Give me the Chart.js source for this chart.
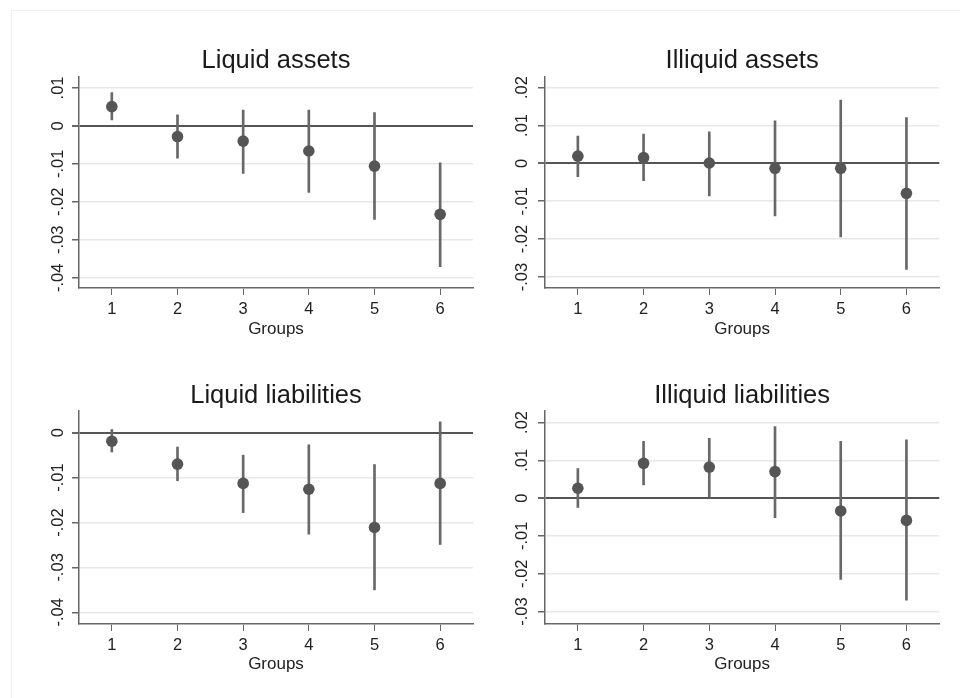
<!DOCTYPE html>
<html>
<head>
<meta charset="utf-8">
<script src="https://cdn.jsdelivr.net/npm/chart.js@4/dist/chart.umd.min.js"></script>
<style>
  html, body { margin: 0; padding: 0; background: #fff; }
  #page { position: relative; width: 960px; height: 698px; overflow: hidden; background: #fff; }
  #frame { position: absolute; left: 11px; top: 10px; right: -2px; bottom: -2px; border-top: 1px solid #f0f0f0; border-left: 1px solid #f0f0f0; }
  .panel { position: absolute; width: 480px; height: 349px; }
</style>
</head>
<body>
<div id="page">
  <div id="frame"></div>
  <div class="panel" style="left:0;top:0"><canvas id="c1" width="480" height="349"></canvas></div>
  <div class="panel" style="left:480px;top:0"><canvas id="c2" width="480" height="349"></canvas></div>
  <div class="panel" style="left:0;top:349px"><canvas id="c3" width="480" height="349"></canvas></div>
  <div class="panel" style="left:480px;top:349px"><canvas id="c4" width="480" height="349"></canvas></div>
</div>
<script>
const groups = ['1', '2', '3', '4', '5', '6'];

// Liquid assets
const liqAssetsEst = [0.0051, -0.0028, -0.0040, -0.0066, -0.0106, -0.0233];
const liqAssetsLo = [0.0016, -0.0085, -0.0125, -0.0175, -0.0246, -0.0371];
const liqAssetsHi = [0.0088, 0.0029, 0.0042, 0.0042, 0.0035, -0.0097];
const liqAssetsTicks = [-0.04, -0.03, -0.02, -0.01, 0, 0.01];

// Illiquid assets
const illAssetsEst = [0.0019, 0.0015, 0.0001, -0.0013, -0.0013, -0.0079];
const illAssetsLo = [-0.0035, -0.0046, -0.0086, -0.0139, -0.0194, -0.0280];
const illAssetsHi = [0.0072, 0.0077, 0.0083, 0.0112, 0.0167, 0.0121];
const illAssetsTicks = [-0.03, -0.02, -0.01, 0, 0.01, 0.02];

// Liquid liabilities
const liqLiabEst = [-0.0019, -0.0070, -0.0113, -0.0126, -0.0211, -0.0113];
const liqLiabLo = [-0.0043, -0.0107, -0.0178, -0.0226, -0.0350, -0.0249];
const liqLiabHi = [0.0007, -0.0032, -0.0050, -0.0027, -0.0071, 0.0024];
const liqLiabTicks = [-0.04, -0.03, -0.02, -0.01, 0];

// Illiquid liabilities
const illLiabEst = [0.0026, 0.0092, 0.0082, 0.0070, -0.0034, -0.0059];
const illLiabLo = [-0.0025, 0.0035, 0.0003, -0.0052, -0.0215, -0.0270];
const illLiabHi = [0.0078, 0.0150, 0.0158, 0.0189, 0.0150, 0.0154];
const illLiabTicks = [-0.03, -0.02, -0.01, 0, 0.01, 0.02];

const FONT = "'Liberation Sans', Arial, Helvetica, sans-serif";
const AXIS = '#666666';

Chart.defaults.font.family = FONT;
Chart.defaults.color = '#222222';

// stata style labels: .01, 0, -.01
function stataLabel(v) {
  if (Math.abs(v) < 1e-9) return '0';
  return (v < 0 ? '-' : '') + Math.abs(v).toFixed(2).replace(/^0/, '');
}

function makePanel(id, title, est, lo, hi, ticks, yMin, yMax, lay) {
  const ctx = document.getElementById(id).getContext('2d');
  return new Chart(ctx, {
    type: 'bar',
    data: {
      labels: groups,
      datasets: [{
        type: 'line',
        data: est,
        showLine: false,
        pointRadius: 5.8,
        pointBackgroundColor: '#555555',
        pointBorderWidth: 0,
        order: 0
      }, {
        type: 'bar',
        data: lo.map((l, i) => [l, hi[i]]),
        backgroundColor: '#686868',
        borderWidth: 0,
        barThickness: 2,
        order: 1
      }]
    },
    options: {
      responsive: false,
      devicePixelRatio: 1,
      animation: false,
      layout: { padding: { left: 0, right: lay.right, top: 0, bottom: 0 } },
      plugins: {
        legend: { display: false },
        tooltip: { enabled: false },
        title: {
          display: true,
          text: title,
          fullSize: false,
          color: '#1a1a1a',
          font: { size: 25.5, weight: 'normal' },
          padding: { top: lay.titleTop, bottom: lay.titleBottom }
        }
      },
      scales: {
        x: {
          type: 'category',
          offset: true,
          afterFit: (s) => { s.height = lay.xHeight; },
          grid: { display: true, drawOnChartArea: false, drawTicks: true, tickLength: 7, tickColor: AXIS, offset: false },
          border: { color: AXIS, width: 1.5 },
          ticks: { color: '#222', font: { size: 16.5 }, padding: 4.6, maxRotation: 0 },
          title: { display: true, text: 'Groups', color: '#222', font: { size: 17 }, padding: { top: 0, bottom: lay.groupsBottom } }
        },
        y: {
          type: 'linear',
          min: yMin,
          max: yMax,
          afterFit: (s) => { s.width = lay.yWidth; },
          afterBuildTicks: (s) => { s.ticks = ticks.map(v => ({ value: v })); },
          grid: {
            color: (c) => (c.tick && Math.abs(c.tick.value) < 1e-9) ? '#555555' : '#e8e8e8',
            lineWidth: (c) => (c.tick && Math.abs(c.tick.value) < 1e-9) ? 2 : 1.5,
            tickColor: AXIS,
            tickLength: 7
          },
          border: { color: AXIS, width: 1.5 },
          ticks: {
            color: '#222',
            font: { size: 16.5 },
            minRotation: 90,
            maxRotation: 90,
            crossAlign: 'center',
            padding: lay.yPad,
            callback: (v) => stataLabel(v)
          }
        }
      }
    }
  });
}

const topLeft = { right: 7, yWidth: 79, yPad: -0.7, titleTop: 45.5, titleBottom: 0.5, xHeight: 61, groupsBottom: 9.8 };
const topRight = { right: 20.7, yWidth: 65, yPad: 1.8, titleTop: 45.5, titleBottom: 0.5, xHeight: 61, groupsBottom: 9.8 };
const botLeft = { right: 7, yWidth: 79, yPad: -0.7, titleTop: 31.5, titleBottom: 0, xHeight: 74, groupsBottom: 23.5 };
const botRight = { right: 20.7, yWidth: 65, yPad: 1.8, titleTop: 31.5, titleBottom: 0, xHeight: 74, groupsBottom: 23.5 };

makePanel('c1', 'Liquid assets', liqAssetsEst, liqAssetsLo, liqAssetsHi, liqAssetsTicks, -0.0427, 0.0130, topLeft);
makePanel('c2', 'Illiquid assets', illAssetsEst, illAssetsLo, illAssetsHi, illAssetsTicks, -0.0329, 0.0229, topRight);
makePanel('c3', 'Liquid liabilities', liqLiabEst, liqLiabLo, liqLiabHi, liqLiabTicks, -0.0426, 0.0048, botLeft);
makePanel('c4', 'Illiquid liabilities', illLiabEst, illLiabLo, illLiabHi, illLiabTicks, -0.0333, 0.0230, botRight);
</script>
</body>
</html>
